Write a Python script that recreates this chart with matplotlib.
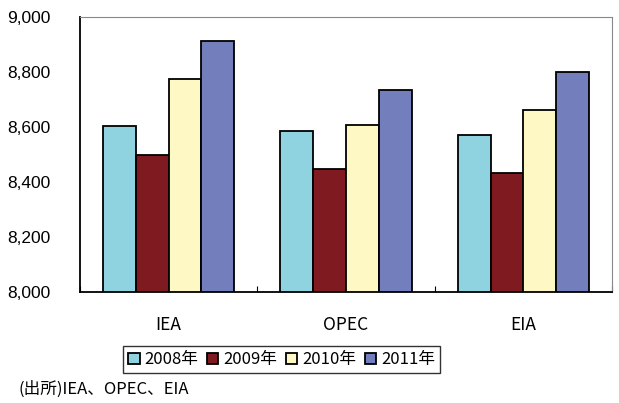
import numpy as np
import matplotlib
matplotlib.use("Agg")
import matplotlib.pyplot as plt
from matplotlib.ticker import FuncFormatter, FixedLocator

plt.rcParams['font.family'] = ['Noto Sans CJK JP', 'DejaVu Sans']

# data
categories = ["IEA", "OPEC", "EIA"]
years = ["2008年", "2009年", "2010年", "2011年"]
v2008 = [8606, 8587, 8573]
v2009 = [8500, 8447, 8434]
v2010 = [8775, 8607, 8662]
v2011 = [8914, 8735, 8801]
colors = ["#8fd2e0", "#7f1b20", "#fdf8c4", "#737fbd"]

series = [v2008, v2009, v2010, v2011]

fig = plt.figure(figsize=(6.19, 4.03), dpi=100)
ax = fig.add_axes([0.1292, 0.2747, 0.8595, 0.6823])

x = np.arange(len(categories))
bw = 0.185
for i, (vals, col, lab) in enumerate(zip(series, colors, years)):
    ax.bar(x + (i - 1.5) * bw, np.array(vals) - 8000, bottom=8000, width=bw,
           color=col, edgecolor="black", linewidth=1.3, label=lab, zorder=3)

ax.set_xlim(-0.5, len(categories) - 0.5)
ax.set_ylim(8000, 9000)
ax.set_yticks(np.arange(8000, 9001, 200))
ax.yaxis.set_major_formatter(FuncFormatter(lambda v, p: f"{int(v):,}"))
ax.tick_params(axis="y", length=0, pad=21, labelsize=12.5)
for t in ax.get_yticklabels():
    t.set_fontfamily(["Liberation Sans", "DejaVu Sans"])

# category labels, ticks at boundaries
ax.set_xticks(x)
ax.set_xticklabels(categories)
ax.tick_params(axis="x", which="major", length=0, pad=17, labelsize=12.5)
ax.xaxis.set_minor_locator(FixedLocator(np.arange(-0.5, len(categories), 1.0)))
ax.tick_params(axis="x", which="minor", direction="in", length=4, width=0.8)

ax.spines["left"].set_linewidth(1.3)
ax.spines["bottom"].set_linewidth(1.3)
ax.spines["top"].set_color("#888888")
ax.spines["right"].set_color("#888888")
ax.spines["top"].set_linewidth(0.8)
ax.spines["right"].set_linewidth(0.8)

leg = fig.legend(loc="center", bbox_to_anchor=(0.455, 0.107), ncol=4, fontsize=12,
                 frameon=True, fancybox=False, edgecolor="black", handlelength=0.7,
                 handleheight=0.7, handletextpad=0.3, columnspacing=0.5,
                 borderpad=0.3)
leg.get_frame().set_linewidth(1.0)

fig.text(0.03, 0.012, "(出所)IEA、OPEC、EIA", fontsize=12, ha="left", va="bottom")

fig.savefig("out.png", dpi=100)
